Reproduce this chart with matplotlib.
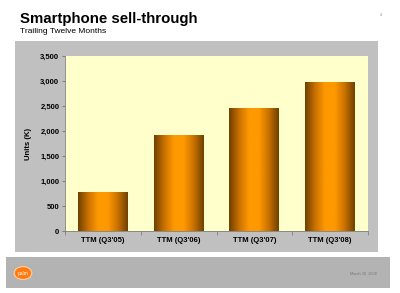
import numpy as np
import matplotlib
matplotlib.use("Agg")
from matplotlib import pyplot as plt
from matplotlib.patches import Rectangle, Circle
from matplotlib.colors import LinearSegmentedColormap
from matplotlib.ticker import FuncFormatter, FixedLocator

plt.rcParams['font.family'] = ['Liberation Sans', 'DejaVu Sans']

categories = ["TTM (Q3'05)", "TTM (Q3'06)", "TTM (Q3'07)", "TTM (Q3'08)"]
units_k = [775, 1920, 2455, 2965]
y_ticks = [0, 500, 1000, 1500, 2000, 2500, 3000, 3500]

fig = plt.figure(figsize=(4.0, 2.93), dpi=100)
fig.patch.set_facecolor("white")

# grey panel behind the chart
fig.patches.append(Rectangle((0.0375, 0.14), 0.9075, 0.72, transform=fig.transFigure,
                             facecolor="#c0c0c0", edgecolor="none", zorder=-2))
# footer band
fig.patches.append(Rectangle((0.015, 0.017), 0.96, 0.106, transform=fig.transFigure,
                             facecolor="#b3b3b3", edgecolor="none", zorder=-2))

fig.text(0.05, 0.935, "Smartphone sell-through", fontsize=10.8, fontweight="bold",
         va="center", ha="left")
fig.text(0.05, 0.893, "Trailing Twelve Months", fontsize=6, va="center", ha="left")
fig.text(0.952, 0.945, "4", fontsize=2.5, color="#888888", ha="center")

ax = fig.add_axes([0.1625, 0.2116, 0.7575, 0.597])
ax.set_zorder(5)
ax.set_facecolor("#ffffcc")

x = np.arange(len(categories))
bars = ax.bar(x, units_k, width=0.66, color="#ff9900", zorder=2)

# shaded cylinder look
cmap = LinearSegmentedColormap.from_list("barshade", ["#6e4000", "#c87000", "#ff9900",
                                                      "#ff9900", "#c87000", "#6e4000"])
grad = np.linspace(0, 1, 256).reshape(1, -1)
for b in bars:
    x0, w, h = b.get_x(), b.get_width(), b.get_height()
    ax.imshow(grad, cmap=cmap, aspect="auto", extent=(x0, x0 + w, 0, h),
              zorder=3, interpolation="bilinear")

ax.set_xlim(-0.5, len(categories) - 0.5)
ax.set_ylim(0, 3500)
ax.set_yticks(y_ticks)
ax.yaxis.set_major_formatter(FuncFormatter(lambda v, p: f"{int(v):,}"))
ax.set_xticks(x)
ax.set_xticklabels(categories, fontsize=5.5, fontweight="bold")
ax.tick_params(axis="x", length=0, pad=4)
ax.xaxis.set_minor_locator(FixedLocator(np.arange(-0.5, len(categories), 1)))
ax.tick_params(axis="x", which="minor", length=3, color="#808080")
ax.tick_params(axis="y", labelsize=5.5, length=2, color="#808080", pad=2)
for lab in ax.get_yticklabels():
    lab.set_fontweight("bold")
ax.set_ylabel("Units (K)", fontsize=5.5, fontweight="bold", labelpad=6)

for s in ["top", "right"]:
    ax.spines[s].set_visible(False)
for s in ["left", "bottom"]:
    ax.spines[s].set_color("#808080")
    ax.spines[s].set_linewidth(0.6)

# footer logo and date
fig.patches.append(Circle((0.0575, 0.068), 0.022, transform=fig.transFigure,
                          facecolor="#ff7a10", edgecolor="#ffd0a0", linewidth=0.8, zorder=1))
fig.text(0.0575, 0.066, "palm", fontsize=3.5, color="white", ha="center", va="center")
fig.text(0.908, 0.068, "March 30, 2008", fontsize=2.8, color="#777777", ha="center", va="center")

fig.savefig("out.png", dpi=100)
